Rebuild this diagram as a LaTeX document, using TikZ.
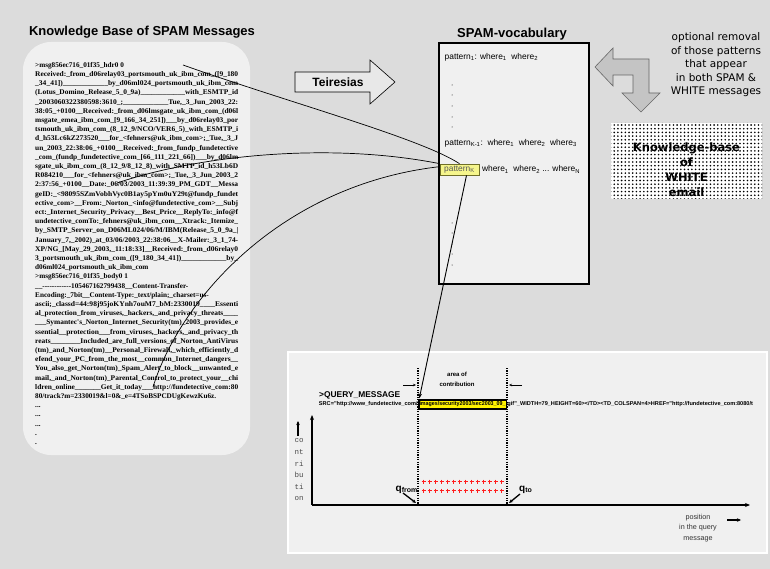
\documentclass[tikz,border=0pt]{standalone}
\usepackage{graphicx}
\usepackage{fontspec}
\setmainfont{Liberation Sans}
\newfontfamily\msgfont{Liberation Serif}[Ligatures=TeXOff]
\newfontfamily\verd{DejaVu Sans}
\newfontfamily\monof{Liberation Mono}
\newfontfamily\tinyf{Liberation Sans}[Ligatures=TeXOff]
\usetikzlibrary{arrows.meta,patterns.meta,calc}
\definecolor{bg}{RGB}{220,220,220}
\definecolor{panel}{RGB}{240,240,240}
\definecolor{arrowfill}{RGB}{232,232,232}
\definecolor{bentfill}{RGB}{196,196,196}
\definecolor{pkfill}{RGB}{245,245,140}
\definecolor{pkdraw}{RGB}{110,110,40}
\definecolor{crossred}{RGB}{255,30,30}
\newcommand\jl[1]{\resizebox{203pt}{\height}{#1}}
\begingroup
\catcode`\_=12
\gdef\msgtext{%
>msg856ec716_01f35_hdr0 0\\
\jl{Received:_from_d06relay03_portsmouth_uk_ibm_com_([9_180}\\
\jl{_34_41])____________by_d06ml024_portsmouth_uk_ibm_com}\\
\jl{(Lotus_Domino_Release_5_0_9a)____________with_ESMTP_id}\\
\jl{_2003060322380598:3610_;____________Tue,_3_Jun_2003_22:}\\
\jl{38:05_+0100__Received:_from_d06lmsgate_uk_ibm_com_(d06l}\\
\jl{msgate_emea_ibm_com_[9_166_34_251])___by_d06relay03_por}\\
\jl{tsmouth_uk_ibm_com_(8_12_9/NCO/VER6_5)_with_ESMTP_i}\\
\jl{d_h53Lc6kZ273520___for_<fehners@uk_ibm_com>;_Tue,_3_J}\\
\jl{un_2003_22:38:06_+0100__Received:_from_fundp_fundetective}\\
\jl{_com_(fundp_fundetective_com_[66_111_221_66])___by_d06lm}\\
\jl{sgate_uk_ibm_com_(8_12_9/8_12_8)_with_SMTP_id_h53Lb6D}\\
\jl{R084210___for_<fehners@uk_ibm_com>;_Tue,_3_Jun_2003_2}\\
\jl{2:37:56_+0100__Date:_06/03/2003_11:39:39_PM_GDT__Messa}\\
\jl{geID:_<98095SZmVobhVyc0B1ay5pYm0uY29t@fundp_fundet}\\
\jl{ective_com>__From:_Norton_<info@fundetective_com>__Subj}\\
\jl{ect:_Internet_Security_Privacy__Best_Price__ReplyTo:_info@f}\\
\jl{undetective_comTo:_fehners@uk_ibm_com__Xtrack:_Itemize_}\\
\jl{by_SMTP_Server_on_D06ML024/06/M/IBM(Release_5_0_9a_|}\\
\jl{January_7,_2002)_at_03/06/2003_22:38:06__X-Mailer:_3_1_74-}\\
\jl{XP/NG_[May_29_2003,_11:18:33]__Received:_from_d06relay0}\\
\jl{3_portsmouth_uk_ibm_com_([9_180_34_41])____________by_}\\
d06ml024_portsmouth_uk_ibm_com\\
>msg856ec716_01f35_body0 1\\
__------------105467162799438__Content-Transfer-\\
Encoding:_7bit__Content-Type:_text/plain;_charset=us-\\
\jl{ascii;_classd=44:98j95joKYnh7ouM7_bM:2330019____Essenti}\\
\jl{al_protection_from_viruses,_hackers,_and_privacy_threats____}\\
\jl{___Symantec's_Norton_Internet_Security(tm)_2003_provides_e}\\
\jl{ssential__protection___from_viruses,_hackers,_and_privacy_th}\\
\jl{reats________Included_are_full_versions_of_Norton_AntiVirus}\\
\jl{(tm)_and_Norton(tm)__Personal_Firewall,_which_efficiently_d}\\
\jl{efend_your_PC_from_the_most__common_Internet_dangers__}\\
\jl{You_also_get_Norton(tm)_Spam_Alert_to_block__unwanted_e}\\
\jl{mail,_and_Norton(tm)_Parental_Control_to_protect_your__chi}\\
\jl{ldren_online_______Get_it_today___http://fundetective_com:80}\\
80/track?m=2330019\&l=0\&_e=4TSoBSPCDUgKewzKu6z.\\
...\\...\\...\\.\\.}
\gdef\srcpre{SRC="http://www_fundetective_com/}
\gdef\srchl{images/security2003/sec2003_09_}
\gdef\srcpost{gif"_WIDTH=79_HEIGHT=60></TD><TD_COLSPAN=4>HREF="http://fundetective_com:8080/t}
\gdef\qmsg{>QUERY_MESSAGE}
\endgroup
\begin{document}
\begin{tikzpicture}[x=1pt,y=-1pt,
  title/.style={font=\bfseries\fontsize{13}{15}\selectfont},
  vtext/.style={anchor=west, inner sep=0.5pt, font=\fontsize{8.4}{9}\selectfont},
  pkbox/.style={draw=pkdraw, fill=pkfill, line width=0.7pt, inner sep=1pt, minimum width=39pt, minimum height=11pt, text=black!65, font=\fontsize{8.4}{9}\selectfont},
  srcfont/.style={font=\tinyf\bfseries\fontsize{5.6}{6}\selectfont},
  conn/.style={line width=0.7pt, black},
  axis/.style={line width=1.2pt, -{Stealth[length=5pt,width=4pt]}},
  dotline/.style={line width=1.3pt, dash pattern=on 1.2pt off 1.2pt},
  shortarrow/.style={line width=1.3pt, -{Stealth[length=4pt,width=3.5pt]}},
  crossmark/.style={draw=crossred, line width=1.1pt},
  vdot/.style={fill=black}]
\useasboundingbox (0,0) rectangle (770,569);
\fill[bg] (0,0) rectangle (770,569);

% ---------- left: SPAM knowledge base
\node[title] (kbtitle) at (142,32) {Knowledge Base of SPAM Messages};
\fill[panel, rounded corners=28pt] (23,42) rectangle (250,455);
\node[anchor=north west, inner sep=0pt, align=left,
      font=\msgfont\bfseries\fontsize{7.2}{9.2}\selectfont] (msg) at (35,62) {\msgtext};

% ---------- Teiresias arrow
\draw[fill=arrowfill, line width=0.6pt] (295,72) -- (370,72) -- (370,60) -- (395,82) -- (370,104) -- (370,92) -- (295,92) -- cycle;
\node[font=\bfseries\fontsize{12}{14}\selectfont] (teir) at (338,82) {Teiresias};

% ---------- SPAM vocabulary
\node[title] (vtitle) at (512,34) {SPAM-vocabulary};
\node[draw, line width=1.3pt, fill=panel, minimum width=150pt, minimum height=241pt, inner sep=0pt] (vocab) at (514,163.5) {};
\node[vtext] (p1) at (444,57) {pattern\textsubscript{1}: where\textsubscript{1}\ \ where\textsubscript{2}};
\foreach \yy in {85,95,106,117,127} \fill[vdot] (452,\yy) circle (0.5pt);
\node[vtext] (pkm) at (444,143) {pattern\textsubscript{K-1}:\ \ where\textsubscript{1}\ \ where\textsubscript{2}\ \ where\textsubscript{3}};
\node[pkbox] (pk) at (459.5,169.5) {pattern\textsubscript{K}};
\node[vtext, anchor=west] (pkw) at ($(pk.east)+(2,0)$) {where\textsubscript{1}\ \ where\textsubscript{2} ... where\textsubscript{N}};
\foreach \yy in {223,233,244,254,265} \fill[vdot] (452,\yy) circle (0.5pt);

% ---------- optional removal
\draw[fill=bentfill, draw=black!60, line width=0.6pt]
  (595,67) -- (613,48) -- (613,59) -- (649,59) -- (649,93) -- (660,93) -- (641,112)
  -- (622,93) -- (633,93) -- (633,75) -- (613,75) -- (613,86) -- cycle;
\node[align=center, font=\verd\fontsize{10.5}{13.5}\selectfont] (opt) at (716,65)
  {optional removal\\of those patterns\\that appear\\in both SPAM \&\\WHITE messages};

% ---------- knowledge base of WHITE email
\fill[white] (611,123) rectangle (762,199);
\fill[pattern={Dots[radius=0.9pt,distance=3.7pt]}, pattern color=black] (611,123) rectangle (762,199);
\begin{scope}
\clip (611,123) rectangle (762,199);
\node[align=center, font=\verd\bfseries\fontsize{11.5}{15}\selectfont] (wkb) at (686.5,170)
  {Knowledge-base\\of\\WHITE\\email};
\end{scope}

% ---------- query panel
\draw[white, line width=2pt, fill=panel] (288,352) rectangle (767,553);
\node[anchor=base west, inner sep=0pt, font=\bfseries\fontsize{8.4}{9}\selectfont] (qm) at (319,397) {\qmsg};
\node[draw, line width=1.2pt, fill=yellow, inner sep=0.6pt, minimum height=9pt,
      srcfont] (qh) at (462.5,404.5) {\resizebox{86pt}{\height}{\srchl}};
\node[srcfont, anchor=east, inner sep=0.5pt] (qpre) at (qh.west) {\srcpre};
\node[srcfont, anchor=west, inner sep=0.5pt] (qpost) at (qh.east) {\srcpost};

\node[align=center, font=\bfseries\fontsize{6}{10}\selectfont] (area) at (457,379) {area of\\contribution};
\coordinate (al1) at (403,385); \coordinate (al2) at (416,385);
\coordinate (ar1) at (522,385); \coordinate (ar2) at (509,385);
\draw[line width=0.8pt, -{Stealth[length=3pt,width=2.5pt]}] (al1) -- (al2);
\draw[line width=0.8pt, -{Stealth[length=3pt,width=2.5pt]}] (ar1) -- (ar2);

\coordinate (d1t) at (418,368); \coordinate (d1b) at (418,505);
\coordinate (d2t) at (507,368); \coordinate (d2b) at (507,505);
\draw[dotline] (d1t) -- (d1b);
\draw[dotline] (d2t) -- (d2b);

\foreach \cx in {423.5,429.5,...,501.5} {
  \draw[crossmark] (\cx-2,481.5) -- (\cx+2,481.5) (\cx,479.5) -- (\cx,483.5);
  \draw[crossmark] (\cx-2,490.5) -- (\cx+2,490.5) (\cx,488.5) -- (\cx,492.5);
}

\coordinate (o) at (312,505);
\coordinate (ytop) at (312,415);
\coordinate (xend) at (750,505);
\draw[axis] (o) -- (ytop);
\draw[axis] (o) -- (xend);

\node[align=center, font=\monof\fontsize{7.5}{11.6}\selectfont, text=black!70] (contr) at (299,470) {co\\nt\\ri\\bu\\ti\\on};
\coordinate (ua1) at (298,436); \coordinate (ua2) at (298,421);
\draw[shortarrow] (ua1) -- (ua2);

\node[anchor=base east, inner sep=0pt, font=\bfseries\fontsize{10}{12}\selectfont] (qf) at (418,491) {q\textsubscript{from}};
\coordinate (qfa) at (403,493); \coordinate (qfb) at (416,503);
\draw[shortarrow] (qfa) -- (qfb);
\node[anchor=base west, inner sep=0pt, font=\bfseries\fontsize{10}{12}\selectfont] (qt) at (519,491) {q\textsubscript{to}};
\coordinate (qta) at (520,494); \coordinate (qtb) at (509,503);
\draw[shortarrow] (qta) -- (qtb);

\node[align=center, font=\fontsize{7.2}{10.5}\selectfont, text=black!80] (pos) at (698,528) {position\\in the query\\message};
\coordinate (pa1) at (727,520); \coordinate (pa2) at (741,520);
\draw[shortarrow] (pa1) -- (pa2);

% ---------- connectors
\coordinate (s1) at (183,65);
\coordinate (s2) at (117,183);
\coordinate (s3) at (153,387);
\draw[conn] (s1) .. controls (290,103) and (420,138) .. (pk.north);
\draw[conn] (s2) .. controls (200,155) and (330,142) .. (pk.north west);
\draw[conn] (s3) .. controls (180,300) and (280,185) .. ($(pk.north west)+(0,3)$);
\draw[conn, line width=0.9pt, -{Stealth[length=5pt,width=3.5pt]}] ($(pk.south)+(7,0)$) -- ($(qh.north west)+(1,-1)$);
\end{tikzpicture}
\end{document}
